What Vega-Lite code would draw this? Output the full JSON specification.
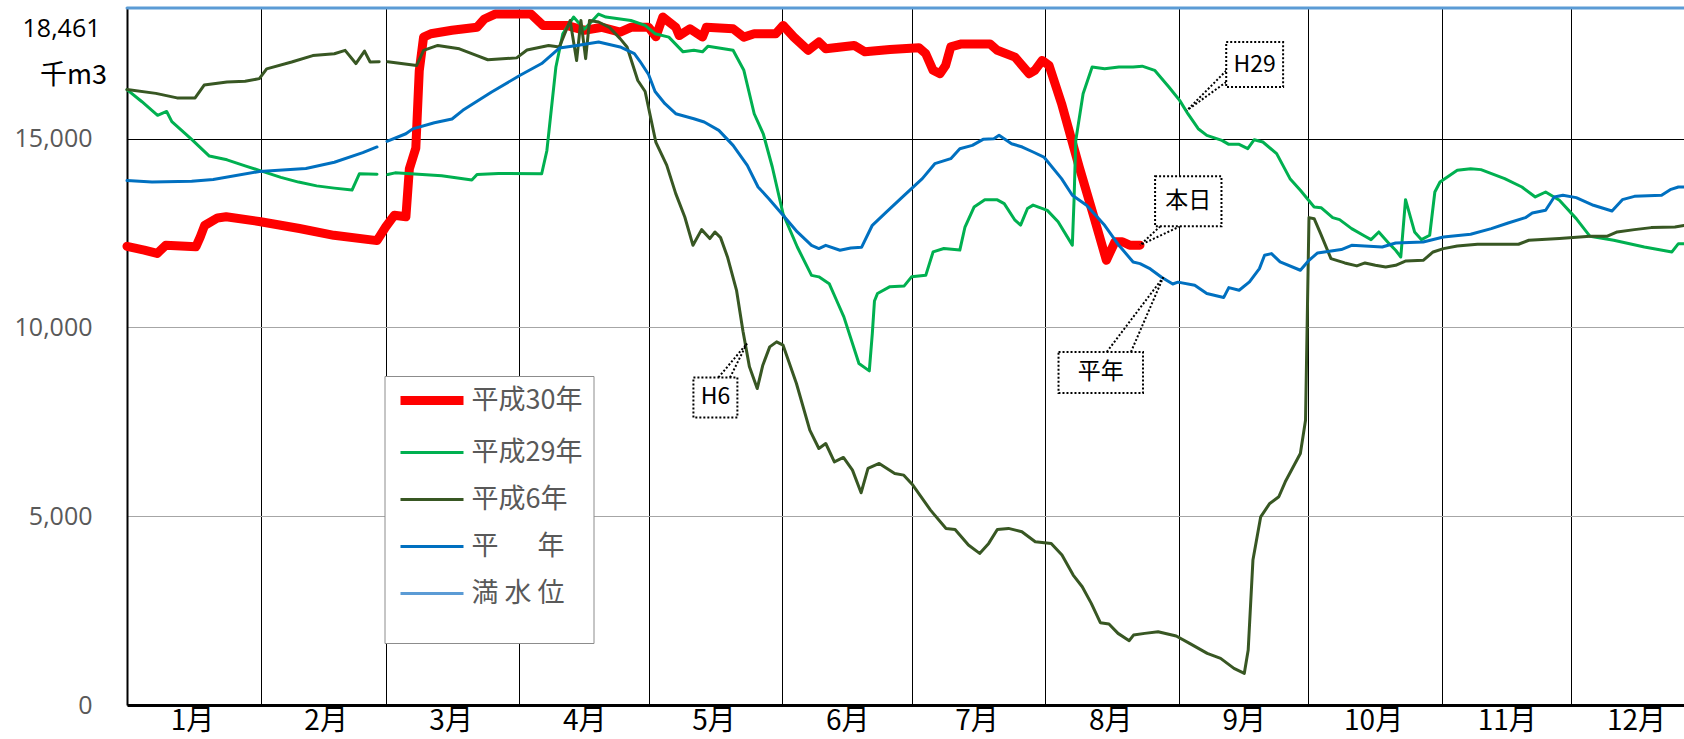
{
  "$schema": "https://vega.github.io/schema/vega-lite/v6.json",
  "width": 1557,
  "height": 697,
  "autosize": {"type": "none"},
  "padding": {"left": 127, "top": 8, "right": 0, "bottom": 34},
  "background": "#ffffff",
  "config": {"view": {"stroke": null}, "font": "Noto Sans CJK JP"},
  "datasets": {
    "levels": [
      {"series": "平成30年", "day": 1, "value": 12150},
      {"series": "平成30年", "day": 5, "value": 12050},
      {"series": "平成30年", "day": 8, "value": 11960},
      {"series": "平成30年", "day": 10, "value": 12180},
      {"series": "平成30年", "day": 17, "value": 12140},
      {"series": "平成30年", "day": 18, "value": 12400},
      {"series": "平成30年", "day": 19, "value": 12700},
      {"series": "平成30年", "day": 22, "value": 12900},
      {"series": "平成30年", "day": 24, "value": 12930},
      {"series": "平成30年", "day": 32, "value": 12800},
      {"series": "平成30年", "day": 41, "value": 12620},
      {"series": "平成30年", "day": 49, "value": 12440},
      {"series": "平成30年", "day": 59, "value": 12300},
      {"series": "平成30年", "day": 61, "value": 12660},
      {"series": "平成30年", "day": 63, "value": 12970},
      {"series": "平成30年", "day": 65.7, "value": 12930},
      {"series": "平成30年", "day": 66.5, "value": 14200},
      {"series": "平成30年", "day": 68, "value": 14750},
      {"series": "平成30年", "day": 68.8, "value": 16800},
      {"series": "平成30年", "day": 69.8, "value": 17690},
      {"series": "平成30年", "day": 71.5, "value": 17780},
      {"series": "平成30年", "day": 76.4, "value": 17870},
      {"series": "平成30年", "day": 82.2, "value": 17950},
      {"series": "平成30年", "day": 83.9, "value": 18170},
      {"series": "平成30年", "day": 86.4, "value": 18300},
      {"series": "平成30年", "day": 94.7, "value": 18300},
      {"series": "平成30年", "day": 97.5, "value": 18000},
      {"series": "平成30年", "day": 103, "value": 18000},
      {"series": "平成30年", "day": 107.1, "value": 17870},
      {"series": "平成30年", "day": 111.2, "value": 17950},
      {"series": "平成30年", "day": 115.4, "value": 17820},
      {"series": "平成30年", "day": 117.9, "value": 17950},
      {"series": "平成30年", "day": 122, "value": 17950},
      {"series": "平成30年", "day": 123.7, "value": 17700},
      {"series": "平成30年", "day": 125.3, "value": 18220},
      {"series": "平成30年", "day": 128.3, "value": 17950},
      {"series": "平成30年", "day": 129.1, "value": 17730},
      {"series": "平成30年", "day": 131.6, "value": 17910},
      {"series": "平成30年", "day": 134.5, "value": 17690},
      {"series": "平成30年", "day": 135.4, "value": 17950},
      {"series": "平成30年", "day": 141.6, "value": 17910},
      {"series": "平成30年", "day": 144.1, "value": 17690},
      {"series": "平成30年", "day": 146.5, "value": 17780},
      {"series": "平成30年", "day": 151.5, "value": 17780},
      {"series": "平成30年", "day": 153.2, "value": 18000},
      {"series": "平成30年", "day": 155.7, "value": 17690},
      {"series": "平成30年", "day": 159, "value": 17340},
      {"series": "平成30年", "day": 161.5, "value": 17560},
      {"series": "平成30年", "day": 163.1, "value": 17380},
      {"series": "平成30年", "day": 169.7, "value": 17470},
      {"series": "平成30年", "day": 172.2, "value": 17300},
      {"series": "平成30年", "day": 178, "value": 17360},
      {"series": "平成30年", "day": 184.7, "value": 17410},
      {"series": "平成30年", "day": 186.3, "value": 17250},
      {"series": "平成30年", "day": 188, "value": 16810},
      {"series": "平成30年", "day": 189.6, "value": 16720},
      {"series": "平成30年", "day": 190.9, "value": 16940},
      {"series": "平成30年", "day": 192.1, "value": 17430},
      {"series": "平成30年", "day": 194.6, "value": 17510},
      {"series": "平成30年", "day": 201.2, "value": 17510},
      {"series": "平成30年", "day": 202.9, "value": 17340},
      {"series": "平成30年", "day": 207, "value": 17160},
      {"series": "平成30年", "day": 210.3, "value": 16720},
      {"series": "平成30年", "day": 211.6, "value": 16810},
      {"series": "平成30年", "day": 213.3, "value": 17070},
      {"series": "平成30年", "day": 214.9, "value": 16940},
      {"series": "平成30年", "day": 217.8, "value": 15930},
      {"series": "平成30年", "day": 221.9, "value": 14250},
      {"series": "平成30年", "day": 225.3, "value": 12930},
      {"series": "平成30年", "day": 228.2, "value": 11780},
      {"series": "平成30年", "day": 230.2, "value": 12270},
      {"series": "平成30年", "day": 231.9, "value": 12270},
      {"series": "平成30年", "day": 233.6, "value": 12180},
      {"series": "平成30年", "day": 236, "value": 12180},

      {"series": "平成29年", "day": 1, "value": 16300},
      {"series": "平成29年", "day": 4.4, "value": 15985},
      {"series": "平成29年", "day": 8.1, "value": 15620},
      {"series": "平成29年", "day": 10.2, "value": 15720},
      {"series": "平成29年", "day": 11.4, "value": 15450},
      {"series": "平成29年", "day": 16, "value": 14980},
      {"series": "平成29年", "day": 20.1, "value": 14540},
      {"series": "平成29年", "day": 24.2, "value": 14440},
      {"series": "平成29年", "day": 28.4, "value": 14280},
      {"series": "平成29年", "day": 31.7, "value": 14160},
      {"series": "平成29年", "day": 36.7, "value": 13975},
      {"series": "平成29年", "day": 40.8, "value": 13850},
      {"series": "平成29年", "day": 45, "value": 13750},
      {"series": "平成29年", "day": 49.1, "value": 13690},
      {"series": "平成29年", "day": 53.2, "value": 13640},
      {"series": "平成29年", "day": 54.9, "value": 14070},
      {"series": "平成29年", "day": 59, "value": 14060},
      {"series": "平成29年", "day": 60, "value": null},
      {"series": "平成29年", "day": 61.5, "value": 14050},
      {"series": "平成29年", "day": 63.2, "value": 14095},
      {"series": "平成29年", "day": 74, "value": 14020},
      {"series": "平成29年", "day": 81, "value": 13905},
      {"series": "平成29年", "day": 82.2, "value": 14050},
      {"series": "平成29年", "day": 87.2, "value": 14080},
      {"series": "平成29年", "day": 97.2, "value": 14070},
      {"series": "平成29年", "day": 98.4, "value": 14680},
      {"series": "平成29年", "day": 100.5, "value": 16900},
      {"series": "平成29年", "day": 102.1, "value": 17780},
      {"series": "平成29年", "day": 104.6, "value": 18220},
      {"series": "平成29年", "day": 107.1, "value": 17900},
      {"series": "平成29年", "day": 110.4, "value": 18300},
      {"series": "平成29年", "day": 112.1, "value": 18220},
      {"series": "平成29年", "day": 117.9, "value": 18130},
      {"series": "平成29年", "day": 121.2, "value": 18000},
      {"series": "平成29年", "day": 123.5, "value": 17780},
      {"series": "平成29年", "day": 126.7, "value": 17690},
      {"series": "平成29年", "day": 130, "value": 17300},
      {"series": "平成29年", "day": 132.5, "value": 17340},
      {"series": "平成29年", "day": 134.5, "value": 17300},
      {"series": "平成29年", "day": 135.8, "value": 17450},
      {"series": "平成29年", "day": 141.6, "value": 17340},
      {"series": "平成29年", "day": 144.1, "value": 16810},
      {"series": "平成29年", "day": 146.5, "value": 15660},
      {"series": "平成29年", "day": 148.6, "value": 15130},
      {"series": "平成29年", "day": 150.7, "value": 14250},
      {"series": "平成29年", "day": 153.2, "value": 13010},
      {"series": "平成29年", "day": 156.5, "value": 12130},
      {"series": "平成29年", "day": 159.8, "value": 11380},
      {"series": "平成29年", "day": 161.5, "value": 11340},
      {"series": "平成29年", "day": 163.9, "value": 11160},
      {"series": "平成29年", "day": 165.6, "value": 10720},
      {"series": "平成29年", "day": 167.3, "value": 10280},
      {"series": "平成29年", "day": 170.8, "value": 9044},
      {"series": "平成29年", "day": 173.2, "value": 8850},
      {"series": "平成29年", "day": 173.9, "value": 9838},
      {"series": "平成29年", "day": 174.4, "value": 10700},
      {"series": "平成29年", "day": 175.1, "value": 10900},
      {"series": "平成29年", "day": 178, "value": 11080},
      {"series": "平成29年", "day": 181.3, "value": 11100},
      {"series": "平成29年", "day": 183, "value": 11340},
      {"series": "平成29年", "day": 186.3, "value": 11380},
      {"series": "平成29年", "day": 188, "value": 12000},
      {"series": "平成29年", "day": 190.5, "value": 12090},
      {"series": "平成29年", "day": 194.2, "value": 12050},
      {"series": "平成29年", "day": 195.4, "value": 12660},
      {"series": "平成29年", "day": 197.5, "value": 13190},
      {"series": "平成29年", "day": 200, "value": 13380},
      {"series": "平成29年", "day": 202.9, "value": 13380},
      {"series": "平成29年", "day": 204.5, "value": 13280},
      {"series": "平成29年", "day": 207, "value": 12840},
      {"series": "平成29年", "day": 208.3, "value": 12710},
      {"series": "平成29年", "day": 209.9, "value": 13150},
      {"series": "平成29年", "day": 211.2, "value": 13240},
      {"series": "平成29年", "day": 214.5, "value": 13100},
      {"series": "平成29年", "day": 217, "value": 12800},
      {"series": "平成29年", "day": 220.3, "value": 12180},
      {"series": "平成29年", "day": 220.7, "value": 13370},
      {"series": "平成29年", "day": 221.1, "value": 14950},
      {"series": "平成29年", "day": 222.8, "value": 16190},
      {"series": "平成29年", "day": 224.9, "value": 16900},
      {"series": "平成29年", "day": 227.8, "value": 16850},
      {"series": "平成29年", "day": 231.1, "value": 16900},
      {"series": "平成29年", "day": 234.4, "value": 16900},
      {"series": "平成29年", "day": 236.5, "value": 16920},
      {"series": "平成29年", "day": 239.4, "value": 16810},
      {"series": "平成29年", "day": 242.7, "value": 16370},
      {"series": "平成29年", "day": 245.2, "value": 16014},
      {"series": "平成29年", "day": 247.1, "value": 15662},
      {"series": "平成29年", "day": 249.5, "value": 15264},
      {"series": "平成29年", "day": 251.5, "value": 15088},
      {"series": "平成29年", "day": 255, "value": 14956},
      {"series": "平成29年", "day": 256.6, "value": 14850},
      {"series": "平成29年", "day": 259, "value": 14850},
      {"series": "平成29年", "day": 261, "value": 14735},
      {"series": "平成29年", "day": 262.5, "value": 14973},
      {"series": "平成29年", "day": 264.5, "value": 14912},
      {"series": "平成29年", "day": 267.7, "value": 14603},
      {"series": "平成29年", "day": 270.8, "value": 13941},
      {"series": "平成29年", "day": 273.2, "value": 13632},
      {"series": "平成29年", "day": 276.4, "value": 13191},
      {"series": "平成29年", "day": 278, "value": 13173},
      {"series": "平成29年", "day": 280.7, "value": 12909},
      {"series": "平成29年", "day": 282.3, "value": 12856},
      {"series": "平成29年", "day": 285.1, "value": 12618},
      {"series": "平成29年", "day": 288.2, "value": 12414},
      {"series": "平成29年", "day": 289.6, "value": 12326},
      {"series": "平成29年", "day": 291.4, "value": 12529},
      {"series": "平成29年", "day": 293.8, "value": 12220},
      {"series": "平成29年", "day": 295.3, "value": 12044},
      {"series": "平成29年", "day": 296.5, "value": 11867},
      {"series": "平成29年", "day": 297.6, "value": 13385},
      {"series": "平成29年", "day": 299.7, "value": 12529},
      {"series": "平成29年", "day": 301.3, "value": 12326},
      {"series": "平成29年", "day": 303.2, "value": 12441},
      {"series": "平成29年", "day": 304.4, "value": 13588},
      {"series": "平成29年", "day": 305.6, "value": 13852},
      {"series": "平成29年", "day": 309.6, "value": 14161},
      {"series": "平成29年", "day": 312.7, "value": 14206},
      {"series": "平成29年", "day": 315.1, "value": 14180},
      {"series": "平成29年", "day": 320.6, "value": 13941},
      {"series": "平成29年", "day": 324.6, "value": 13720},
      {"series": "平成29年", "day": 327.7, "value": 13456},
      {"series": "平成29年", "day": 330.1, "value": 13588},
      {"series": "平成29年", "day": 333.3, "value": 13367},
      {"series": "平成29年", "day": 337.2, "value": 12882},
      {"series": "平成29年", "day": 340.4, "value": 12414},
      {"series": "平成29年", "day": 345.9, "value": 12309},
      {"series": "平成29年", "day": 353, "value": 12132},
      {"series": "平成29年", "day": 359.4, "value": 12000},
      {"series": "平成29年", "day": 360.9, "value": 12220},
      {"series": "平成29年", "day": 362.2, "value": 12220},

      {"series": "平成6年", "day": 1, "value": 16300},
      {"series": "平成6年", "day": 7.7, "value": 16200},
      {"series": "平成6年", "day": 12.6, "value": 16080},
      {"series": "平成6年", "day": 16.8, "value": 16080},
      {"series": "平成6年", "day": 18.9, "value": 16420},
      {"series": "平成6年", "day": 24.2, "value": 16500},
      {"series": "平成6年", "day": 28.4, "value": 16520},
      {"series": "平成6年", "day": 31.7, "value": 16590},
      {"series": "平成6年", "day": 33.4, "value": 16850},
      {"series": "平成6年", "day": 39.2, "value": 17030},
      {"series": "平成6年", "day": 44.1, "value": 17200},
      {"series": "平成6年", "day": 49.1, "value": 17250},
      {"series": "平成6年", "day": 51.6, "value": 17340},
      {"series": "平成6年", "day": 54.1, "value": 16990},
      {"series": "平成6年", "day": 56.1, "value": 17320},
      {"series": "平成6年", "day": 57.4, "value": 17030},
      {"series": "平成6年", "day": 59.5, "value": 17040},
      {"series": "平成6年", "day": 60, "value": null},
      {"series": "平成6年", "day": 61.5, "value": 17040},
      {"series": "平成6年", "day": 68.2, "value": 16940},
      {"series": "平成6年", "day": 69.8, "value": 17340},
      {"series": "平成6年", "day": 73.1, "value": 17470},
      {"series": "平成6年", "day": 78.1, "value": 17380},
      {"series": "平成6年", "day": 82.2, "value": 17200},
      {"series": "平成6年", "day": 84.7, "value": 17090},
      {"series": "平成6年", "day": 91.4, "value": 17140},
      {"series": "平成6年", "day": 93.8, "value": 17350},
      {"series": "平成6年", "day": 98.8, "value": 17470},
      {"series": "平成6年", "day": 101.3, "value": 17430},
      {"series": "平成6年", "day": 103.8, "value": 18130},
      {"series": "平成6年", "day": 105.3, "value": 17070},
      {"series": "平成6年", "day": 106.3, "value": 18130},
      {"series": "平成6年", "day": 107.4, "value": 17120},
      {"series": "平成6年", "day": 108.3, "value": 18130},
      {"series": "平成6年", "day": 110.4, "value": 18090},
      {"series": "平成6年", "day": 112.9, "value": 17950},
      {"series": "平成6年", "day": 115.4, "value": 17650},
      {"series": "平成6年", "day": 117, "value": 17430},
      {"series": "平成6年", "day": 119.5, "value": 16540},
      {"series": "平成6年", "day": 121.2, "value": 16250},
      {"series": "平成6年", "day": 123.7, "value": 14900},
      {"series": "平成6年", "day": 126.2, "value": 14300},
      {"series": "平成6年", "day": 128.3, "value": 13544},
      {"series": "平成6年", "day": 130.4, "value": 12926},
      {"series": "平成6年", "day": 132.3, "value": 12176},
      {"series": "平成6年", "day": 134.3, "value": 12591},
      {"series": "平成6年", "day": 136.2, "value": 12353},
      {"series": "平成6年", "day": 137.4, "value": 12529},
      {"series": "平成6年", "day": 138.7, "value": 12379},
      {"series": "平成6年", "day": 140.3, "value": 11867},
      {"series": "平成6年", "day": 142.4, "value": 10984},
      {"series": "平成6年", "day": 143.9, "value": 9900},
      {"series": "平成6年", "day": 145.4, "value": 8956},
      {"series": "平成6年", "day": 147.2, "value": 8382},
      {"series": "平成6年", "day": 148.5, "value": 9000},
      {"series": "平成6年", "day": 150.1, "value": 9485},
      {"series": "平成6年", "day": 151.7, "value": 9618},
      {"series": "平成6年", "day": 153.2, "value": 9530},
      {"series": "平成6年", "day": 156.3, "value": 8515},
      {"series": "平成6年", "day": 159.4, "value": 7279},
      {"series": "平成6年", "day": 161.5, "value": 6794},
      {"series": "平成6年", "day": 163.1, "value": 6926},
      {"series": "平成6年", "day": 165.1, "value": 6441},
      {"series": "平成6年", "day": 167.2, "value": 6556},
      {"series": "平成6年", "day": 169.3, "value": 6221},
      {"series": "平成6年", "day": 171.3, "value": 5621},
      {"series": "平成6年", "day": 172.9, "value": 6265},
      {"series": "平成6年", "day": 175.5, "value": 6397},
      {"series": "平成6年", "day": 179.1, "value": 6132},
      {"series": "平成6年", "day": 181.2, "value": 6088},
      {"series": "平成6年", "day": 183.3, "value": 5824},
      {"series": "平成6年", "day": 187.4, "value": 5162},
      {"series": "平成6年", "day": 191, "value": 4677},
      {"series": "平成6年", "day": 193.1, "value": 4650},
      {"series": "平成6年", "day": 196.2, "value": 4236},
      {"series": "平成6年", "day": 198.8, "value": 4015},
      {"series": "平成6年", "day": 200.9, "value": 4280},
      {"series": "平成6年", "day": 202.9, "value": 4650},
      {"series": "平成6年", "day": 205.5, "value": 4677},
      {"series": "平成6年", "day": 208.6, "value": 4588},
      {"series": "平成6年", "day": 211.7, "value": 4324},
      {"series": "平成6年", "day": 215.4, "value": 4280},
      {"series": "平成6年", "day": 217.9, "value": 3971},
      {"series": "平成6年", "day": 220.5, "value": 3441},
      {"series": "平成6年", "day": 222.6, "value": 3132},
      {"series": "平成6年", "day": 224.7, "value": 2691},
      {"series": "平成6年", "day": 226.8, "value": 2179},
      {"series": "平成6年", "day": 228.8, "value": 2144},
      {"series": "平成6年", "day": 230.9, "value": 1897},
      {"series": "平成6年", "day": 233.5, "value": 1703},
      {"series": "平成6年", "day": 234.5, "value": 1853},
      {"series": "平成6年", "day": 237.1, "value": 1897},
      {"series": "平成6年", "day": 240.2, "value": 1941},
      {"series": "平成6年", "day": 244.4, "value": 1826},
      {"series": "平成6年", "day": 247.5, "value": 1632},
      {"series": "平成6年", "day": 251.6, "value": 1367},
      {"series": "平成6年", "day": 254.7, "value": 1235},
      {"series": "平成6年", "day": 257.8, "value": 971},
      {"series": "平成6年", "day": 260.2, "value": 838},
      {"series": "平成6年", "day": 261.1, "value": 1456},
      {"series": "平成6年", "day": 262.2, "value": 3838},
      {"series": "平成6年", "day": 264, "value": 4985},
      {"series": "平成6年", "day": 266.1, "value": 5338},
      {"series": "平成6年", "day": 268.2, "value": 5515},
      {"series": "平成6年", "day": 269.7, "value": 5912},
      {"series": "平成6年", "day": 273.2, "value": 6662},
      {"series": "平成6年", "day": 274.4, "value": 7544},
      {"series": "平成6年", "day": 275.2, "value": 12909},
      {"series": "平成6年", "day": 276.4, "value": 12880},
      {"series": "平成6年", "day": 277.9, "value": 12485},
      {"series": "平成6年", "day": 280.3, "value": 11824},
      {"series": "平成6年", "day": 283.5, "value": 11709},
      {"series": "平成6年", "day": 286.3, "value": 11630},
      {"series": "平成6年", "day": 288.2, "value": 11709},
      {"series": "平成6年", "day": 290.6, "value": 11647},
      {"series": "平成6年", "day": 293, "value": 11603},
      {"series": "平成6年", "day": 295.3, "value": 11647},
      {"series": "平成6年", "day": 297.7, "value": 11762},
      {"series": "平成6年", "day": 301.7, "value": 11779},
      {"series": "平成6年", "day": 304, "value": 11999},
      {"series": "平成6年", "day": 306.4, "value": 12088},
      {"series": "平成6年", "day": 309.6, "value": 12159},
      {"series": "平成6年", "day": 314.3, "value": 12203},
      {"series": "平成6年", "day": 323.8, "value": 12203},
      {"series": "平成6年", "day": 326.2, "value": 12309},
      {"series": "平成6年", "day": 333.3, "value": 12353},
      {"series": "平成6年", "day": 340.4, "value": 12414},
      {"series": "平成6年", "day": 344.3, "value": 12414},
      {"series": "平成6年", "day": 346.7, "value": 12529},
      {"series": "平成6年", "day": 350.7, "value": 12591},
      {"series": "平成6年", "day": 354.6, "value": 12644},
      {"series": "平成6年", "day": 360.1, "value": 12662},
      {"series": "平成6年", "day": 362.2, "value": 12700},

      {"series": "平年", "day": 1, "value": 13890},
      {"series": "平年", "day": 6.8, "value": 13850},
      {"series": "平年", "day": 16, "value": 13870},
      {"series": "平年", "day": 21, "value": 13920},
      {"series": "平年", "day": 31.7, "value": 14130},
      {"series": "平年", "day": 42.5, "value": 14210},
      {"series": "平年", "day": 49.1, "value": 14375},
      {"series": "平年", "day": 55.7, "value": 14630},
      {"series": "平年", "day": 59, "value": 14780},
      {"series": "平年", "day": 60, "value": null},
      {"series": "平年", "day": 61.3, "value": 14930},
      {"series": "平年", "day": 65.7, "value": 15130},
      {"series": "平年", "day": 67.3, "value": 15260},
      {"series": "平年", "day": 72.3, "value": 15420},
      {"series": "平年", "day": 76.4, "value": 15520},
      {"series": "平年", "day": 78.9, "value": 15750},
      {"series": "平年", "day": 85.5, "value": 16230},
      {"series": "平年", "day": 92.2, "value": 16680},
      {"series": "平年", "day": 97.2, "value": 16990},
      {"series": "平年", "day": 101.3, "value": 17400},
      {"series": "平年", "day": 105.4, "value": 17470},
      {"series": "平年", "day": 110.4, "value": 17560},
      {"series": "平年", "day": 115.4, "value": 17430},
      {"series": "平年", "day": 118.7, "value": 17250},
      {"series": "平年", "day": 120, "value": 17050},
      {"series": "平年", "day": 122, "value": 16700},
      {"series": "平年", "day": 123.5, "value": 16250},
      {"series": "平年", "day": 125.8, "value": 15926},
      {"series": "平年", "day": 128.3, "value": 15661},
      {"series": "平年", "day": 132.5, "value": 15529},
      {"series": "平年", "day": 134.9, "value": 15441},
      {"series": "平年", "day": 138.3, "value": 15220},
      {"series": "平年", "day": 141.6, "value": 14823},
      {"series": "平年", "day": 144.9, "value": 14294},
      {"series": "平年", "day": 147.4, "value": 13720},
      {"series": "平年", "day": 149.9, "value": 13411},
      {"series": "平年", "day": 153.2, "value": 12970},
      {"series": "平年", "day": 156.5, "value": 12529},
      {"series": "平年", "day": 159.8, "value": 12176},
      {"series": "平年", "day": 161.5, "value": 12088},
      {"series": "平年", "day": 163.1, "value": 12176},
      {"series": "平年", "day": 166.4, "value": 12044},
      {"series": "平年", "day": 168.9, "value": 12106},
      {"series": "平年", "day": 171.4, "value": 12123},
      {"series": "平年", "day": 173.9, "value": 12706},
      {"series": "平年", "day": 177.2, "value": 13059},
      {"series": "平年", "day": 181.3, "value": 13500},
      {"series": "平年", "day": 185.5, "value": 13941},
      {"series": "平年", "day": 188.4, "value": 14338},
      {"series": "平年", "day": 192.1, "value": 14470},
      {"series": "平年", "day": 194.2, "value": 14735},
      {"series": "平年", "day": 197.1, "value": 14823},
      {"series": "平年", "day": 199.6, "value": 14982},
      {"series": "平年", "day": 202.1, "value": 15000},
      {"series": "平年", "day": 203.3, "value": 15088},
      {"series": "平年", "day": 206.2, "value": 14867},
      {"series": "平年", "day": 208.7, "value": 14779},
      {"series": "平年", "day": 211.2, "value": 14647},
      {"series": "平年", "day": 213.7, "value": 14514},
      {"series": "平年", "day": 217.8, "value": 13941},
      {"series": "平年", "day": 220.3, "value": 13500},
      {"series": "平年", "day": 223.6, "value": 13235},
      {"series": "平年", "day": 227.8, "value": 12706},
      {"series": "平年", "day": 231.1, "value": 12176},
      {"series": "平年", "day": 234.4, "value": 11735},
      {"series": "平年", "day": 236, "value": 11690},
      {"series": "平年", "day": 238.4, "value": 11550},
      {"series": "平年", "day": 241, "value": 11330},
      {"series": "平年", "day": 243.6, "value": 11150},
      {"series": "平年", "day": 244.8, "value": 11200},
      {"series": "平年", "day": 248.7, "value": 11117},
      {"series": "平年", "day": 251.5, "value": 10897},
      {"series": "平年", "day": 255.4, "value": 10791},
      {"series": "平年", "day": 256.6, "value": 11056},
      {"series": "平年", "day": 259, "value": 10985},
      {"series": "平年", "day": 261.4, "value": 11206},
      {"series": "平年", "day": 263.7, "value": 11559},
      {"series": "平年", "day": 264.9, "value": 11912},
      {"series": "平年", "day": 266.5, "value": 11956},
      {"series": "平年", "day": 268.5, "value": 11735},
      {"series": "平年", "day": 273.2, "value": 11515},
      {"series": "平年", "day": 275.2, "value": 11779},
      {"series": "平年", "day": 277.2, "value": 11973},
      {"series": "平年", "day": 282.7, "value": 12062},
      {"series": "平年", "day": 285.1, "value": 12176},
      {"series": "平年", "day": 292.2, "value": 12132},
      {"series": "平年", "day": 295.3, "value": 12238},
      {"series": "平年", "day": 301.7, "value": 12265},
      {"series": "平年", "day": 306.4, "value": 12397},
      {"series": "平年", "day": 312.7, "value": 12467},
      {"series": "平年", "day": 317.5, "value": 12617},
      {"series": "平年", "day": 321.4, "value": 12767},
      {"series": "平年", "day": 325.4, "value": 12908},
      {"series": "平年", "day": 327, "value": 13032},
      {"series": "平年", "day": 330.1, "value": 13103},
      {"series": "平年", "day": 332.1, "value": 13456},
      {"series": "平年", "day": 334.1, "value": 13500},
      {"series": "平年", "day": 337.2, "value": 13438},
      {"series": "平年", "day": 341.2, "value": 13235},
      {"series": "平年", "day": 345.5, "value": 13085},
      {"series": "平年", "day": 347.9, "value": 13385},
      {"series": "平年", "day": 350.7, "value": 13473},
      {"series": "平年", "day": 357, "value": 13500},
      {"series": "平年", "day": 359, "value": 13650},
      {"series": "平年", "day": 360.9, "value": 13720},
      {"series": "平年", "day": 362.2, "value": 13720},

      {"series": "満水位", "day": 1, "value": 18461},
      {"series": "満水位", "day": 362.2, "value": 18461}
    ],
    "callouts": [
      {"label": "H29", "day": 256.0, "day2": 269.2, "value": 17558, "value2": 16366},
      {"label": "本日", "day": 239.5, "day2": 254.9, "value": 14003, "value2": 12679},
      {"label": "H6", "day": 132.4, "day2": 142.6, "value": 8674, "value2": 7615},
      {"label": "平年", "day": 217.1, "day2": 236.7, "value": 9352, "value2": 8267}
    ],
    "notes": [
      {"label": "H29", "day": 262.6, "value": 16962},
      {"label": "本日", "day": 247.2, "value": 13341},
      {"label": "H6", "day": 137.5, "value": 8145},
      {"label": "平年", "day": 226.9, "value": 8810}
    ],
    "leaders": [
      {"day": 256.0, "value": 16800, "day2": 246.9, "value2": 15750},
      {"day": 256.0, "value": 16500, "day2": 246.9, "value2": 15750},
      {"day": 240.7, "value": 12679, "day2": 236.0, "value2": 12180},
      {"day": 245.3, "value": 12679, "day2": 236.0, "value2": 12180},
      {"day": 138.2, "value": 8674, "day2": 144.8, "value2": 9574},
      {"day": 140.9, "value": 8674, "day2": 144.8, "value2": 9574},
      {"day": 228.3, "value": 9352, "day2": 241.4, "value2": 11329},
      {"day": 233.9, "value": 9352, "day2": 241.4, "value2": 11329}
    ]
  },
  "encoding": {
    "x": {
      "field": "day", "type": "quantitative",
      "scale": {"domain": [1, 362.2], "nice": false, "zero": false},
      "axis": {
        "values": [1, 32, 61, 92, 122, 153, 183, 214, 245, 275, 306, 336],
        "labelExpr": "(indexof([1,32,61,92,122,153,183,214,245,275,306,336], datum.value) + 1) + '月'",
        "title": null, "ticks": false, "tickSize": 0,
        "grid": true, "gridColor": "#000000", "gridWidth": 1,
        "domainColor": "#000000", "domainWidth": 3,
        "labelFont": "Noto Sans CJK JP", "labelFontSize": 28, "labelColor": "#000000",
        "labelOffset": 65, "labelPadding": 2, "labelFlush": false, "labelOverlap": false,
        "labelAlign": "center", "labelBaseline": "top"
      }
    },
    "y": {
      "field": "value", "type": "quantitative",
      "scale": {"domain": [0, 18461], "nice": false},
      "axis": {
        "values": [0, 5000, 10000, 15000, 18461], "format": ",",
        "labelExpr": "format(datum.value, ',')",
        "title": "千m3", "titleAngle": 0, "titleX": -54, "titleY": 67,
        "titleAlign": "center", "titleBaseline": "middle",
        "titleFont": "Noto Sans CJK JP", "titleFontSize": 27, "titleFontWeight": "normal", "titleColor": "#000000",
        "labelFont": "Open Sans", "labelFontSize": 25,
        "labelColor": {"condition": {"test": "datum.value == 18461", "value": "#000000"}, "value": "#595959"},
        "labelPadding": {"condition": {"test": "datum.value == 18461", "value": 27}, "value": 35},
        "labelOffset": {"condition": {"test": "datum.value == 18461", "value": 20}, "value": 0},
        "ticks": false, "tickSize": 0,
        "domainColor": "#000000", "domainWidth": 2,
        "gridColor": {"condition": {"test": "datum.value == 15000", "value": "#000000"}, "value": "#a6a6a6"},
        "gridOpacity": {"condition": {"test": "datum.value == 18461", "value": 0}, "value": 1},
        "labelOverlap": false
      }
    }
  },
  "layer": [
    {
      "data": {"name": "levels"},
      "mark": {"type": "line", "strokeJoin": "round", "strokeCap": "round", "invalid": "break-paths-filter-domains"},
      "encoding": {
        "color": {
          "field": "series", "type": "nominal",
          "scale": {"domain": ["平成30年", "平成29年", "平成6年", "平年", "満水位"], "range": ["#FF0000", "#00B050", "#385723", "#0070C0", "#5B9BD5"]},
          "legend": {
            "orient": "none", "legendX": 257.5, "legendY": 368,
            "title": " ", "titleOrient": "bottom", "titleFontSize": 14, "titlePadding": 11,
            "fillColor": "#ffffff", "strokeColor": "#8c8c8c", "padding": 11,
            "symbolType": "M-4.5,0H4.5", "symbolSize": 196, "symbolOffset": 23,
            "labelOffset": 26, "labelFont": "Noto Sans CJK JP", "labelFontSize": 27, "labelColor": "#595959",
            "rowPadding": 19,
            "labelExpr": "datum.label == '平年' ? '平\u3000\u00a0\u00a0年' : datum.label == '満水位' ? '満\u00a0水\u00a0位' : datum.label"
          }
        },
        "strokeWidth": {
          "field": "series", "type": "nominal",
          "scale": {"type": "ordinal", "domain": ["平成30年", "平成29年", "平成6年", "平年", "満水位"], "range": [9, 3, 3, 3, 3]},
          "legend": {
            "orient": "none", "legendX": 257.5, "legendY": 368,
            "title": " ", "titleOrient": "bottom", "titleFontSize": 14, "titlePadding": 11,
            "fillColor": "#ffffff", "strokeColor": "#8c8c8c", "padding": 11,
            "symbolType": "M-4.5,0H4.5", "symbolSize": 196, "symbolOffset": 23,
            "labelOffset": 26, "labelFont": "Noto Sans CJK JP", "labelFontSize": 27, "labelColor": "#595959",
            "rowPadding": 19,
            "labelExpr": "datum.label == '平年' ? '平\u3000\u00a0\u00a0年' : datum.label == '満水位' ? '満\u00a0水\u00a0位' : datum.label"
          }
        }
      }
    },
    {
      "data": {"name": "leaders"},
      "mark": {"type": "rule", "color": "#000000", "strokeWidth": 2, "strokeDash": [2, 2]},
      "encoding": {
        "x2": {"field": "day2"},
        "y2": {"field": "value2"}
      }
    },
    {
      "data": {"name": "callouts"},
      "mark": {"type": "rect", "fill": "#ffffff", "stroke": "#000000", "strokeWidth": 2, "strokeDash": [2, 2]},
      "encoding": {
        "x2": {"field": "day2"},
        "y2": {"field": "value2"}
      }
    },
    {
      "data": {"name": "notes"},
      "mark": {"type": "text", "font": "Noto Sans CJK JP", "fontSize": 23, "color": "#000000", "align": "center", "baseline": "middle"},
      "encoding": {
        "text": {"field": "label", "type": "nominal"}
      }
    }
  ]
}
